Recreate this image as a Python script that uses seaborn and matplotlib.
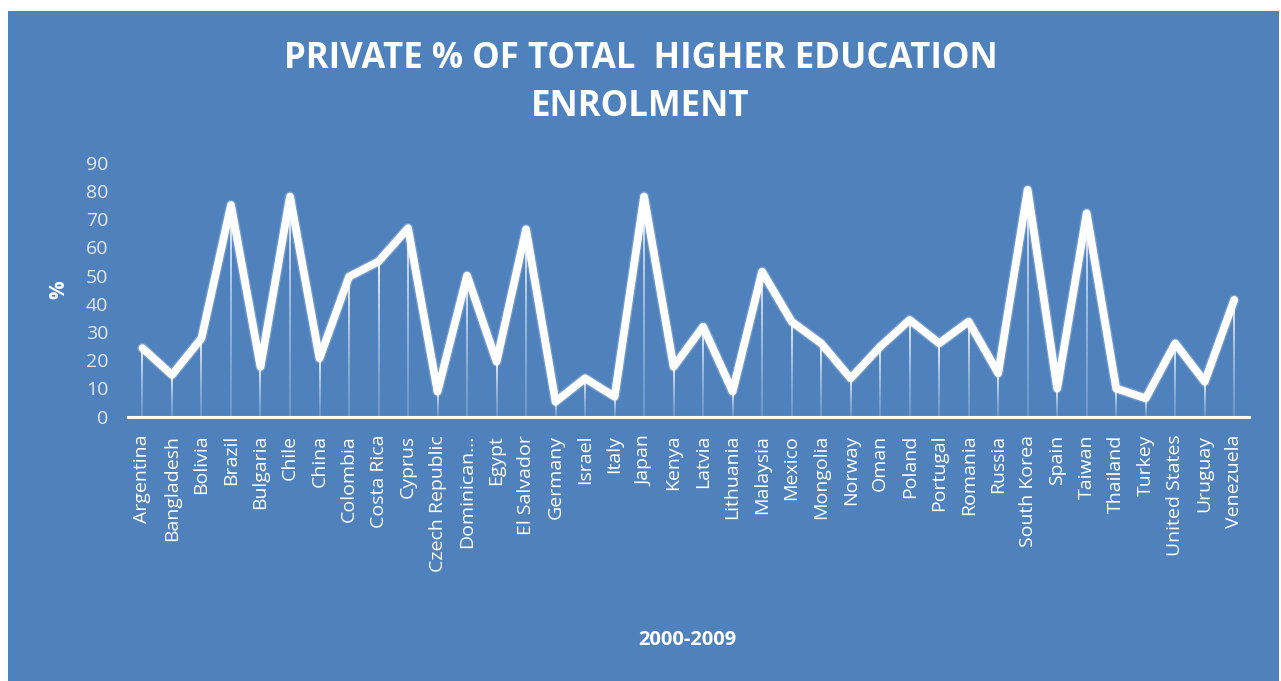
import numpy as np
import pandas as pd
import matplotlib
matplotlib.use("Agg")
import matplotlib.pyplot as plt
import seaborn as sns
from matplotlib.patches import Rectangle

countries = ["Argentina", "Bangladesh", "Bolivia", "Brazil", "Bulgaria", "Chile", "China",
             "Colombia", "Costa Rica", "Cyprus", "Czech Republic", "Dominican\u2026", "Egypt",
             "El Salvador", "Germany", "Israel", "Italy", "Japan", "Kenya", "Latvia",
             "Lithuania", "Malaysia", "Mexico", "Mongolia", "Norway", "Oman", "Poland",
             "Portugal", "Romania", "Russia", "South Korea", "Spain", "Taiwan", "Thailand",
             "Turkey", "United States", "Uruguay", "Venezuela"]
private_pct = [24.3, 14.8, 27.8, 75, 17.7, 78, 20.7, 49.6, 55, 66.8, 8.9, 50, 19.5,
               66.4, 5.3, 13.6, 7.1, 78, 17.7, 31.9, 8.9, 51.4, 33.7, 26, 13.6, 24.8, 34.3,
               26, 33.7, 15.4, 80.4, 10, 72.1, 10, 6.5, 26, 12.4, 41.4]
yticks = [0, 10, 20, 30, 40, 50, 60, 70, 80, 90]

title_line1 = "PRIVATE % OF TOTAL  HIGHER EDUCATION"
title_line2 = "ENROLMENT"
xlabel = "2000-2009"
ylabel = "%"

BLUE = "#4F81BD"
sns.set_theme(style="white")
plt.rcParams['font.family'] = ['Open Sans', 'DejaVu Sans']

df = pd.DataFrame({"country": countries, "pct": private_pct})
df["pos"] = np.arange(len(df))

fig = plt.figure(figsize=(12.81, 6.81), dpi=100, facecolor="white")
bg = Rectangle((8 / 1281, 0), 1271 / 1281, 670 / 681, transform=fig.transFigure,
               facecolor=BLUE, edgecolor="none", zorder=-10)
fig.patches.append(bg)
ax = fig.add_axes([0.0997, 0.3881, 0.8753, 0.3730])
ax.set_facecolor("none")
ax.set_zorder(1)

# fading drop lines
vals = df["pct"].to_numpy()
steps = 24
for i in range(steps):
    f0, f1 = i / steps, (i + 1) / steps
    a = 0.2 + 0.75 * (f1 ** 1.5)
    ax.vlines(df["pos"], vals * f0, vals * f1, colors="white", linewidth=1.3, alpha=a, zorder=2)

# soft glow + main line
sns.lineplot(data=df, x="pos", y="pct", ax=ax, color="white", linewidth=7.5, alpha=0.2,
             sort=False, zorder=3)
sns.lineplot(data=df, x="pos", y="pct", ax=ax, color="white", linewidth=5.6,
             sort=False, zorder=4, solid_joinstyle="round", solid_capstyle="round")

ax.set_xlim(-0.5, len(df) - 0.5)
ax.set_ylim(0, 90)
ax.set_yticks(yticks)
ax.set_yticklabels([str(t) for t in yticks], color="#E6E6E6", fontsize=14)
ax.set_xticks(df["pos"])
ax.set_xticklabels(df["country"], rotation=90, color="white", fontsize=14,
                   ha="center", va="top")
ax.tick_params(axis="y", length=0, pad=14)
ax.tick_params(axis="x", length=0, pad=13)
for s in ["top", "right", "left"]:
    ax.spines[s].set_visible(False)
ax.spines["bottom"].set_color("white")
ax.spines["bottom"].set_linewidth(2.2)
ax.spines["bottom"].set_zorder(5)
ax.set_xlabel("")
ax.set_ylabel("")

fig.text(0.5, 0.913, title_line1, ha="center", va="center",
         color="white", fontsize=25, fontweight="bold")
fig.text(0.5, 0.843, title_line2, ha="center", va="center",
         color="white", fontsize=25, fontweight="bold")
fig.text(0.537, 0.060, xlabel, ha="center", va="center", color="white",
         fontsize=14.5, fontweight="bold")
fig.text(0.046, 0.574, ylabel, ha="center", va="center", color="white",
         fontsize=15, fontweight="bold", rotation=90)

fig.savefig("out.png", dpi=100, facecolor="white")
